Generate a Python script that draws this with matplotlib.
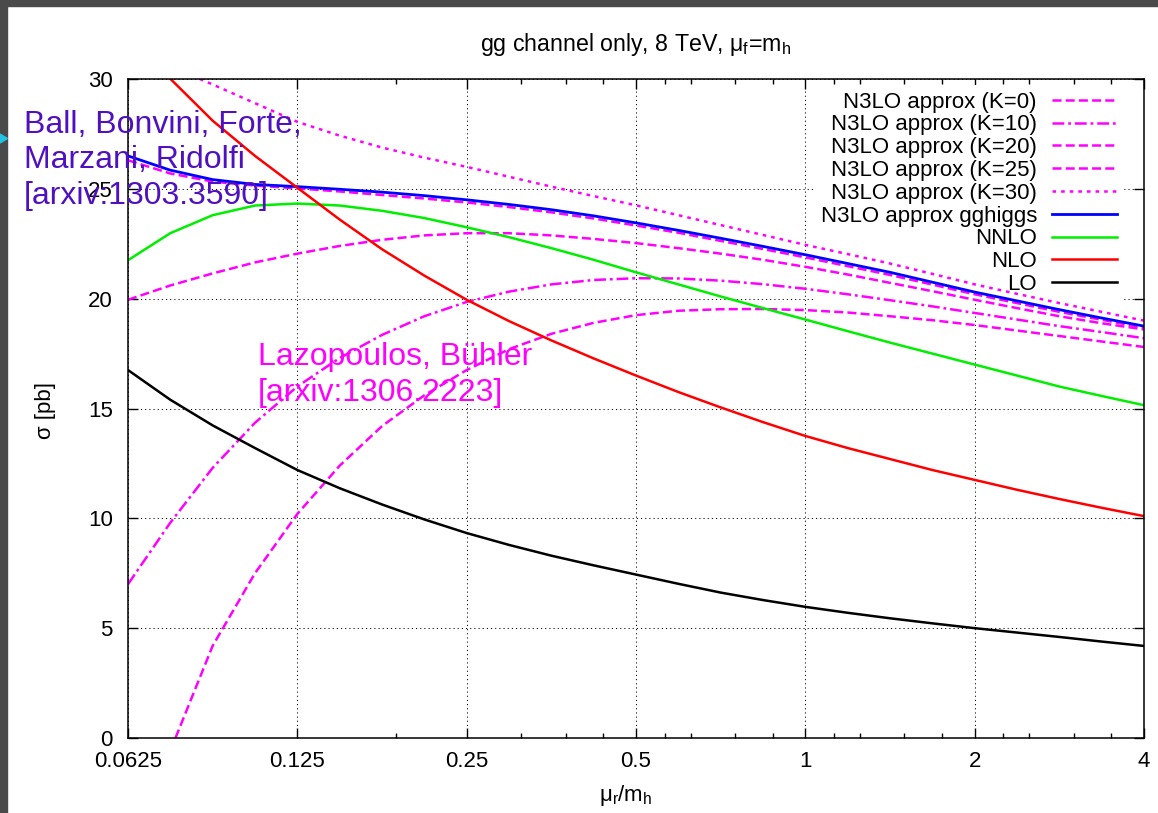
import numpy as np
import matplotlib
matplotlib.use('Agg')
import matplotlib.pyplot as plt
from matplotlib.patches import Rectangle, Polygon

plt.rcParams['font.family'] = ['Liberation Sans', 'DejaVu Sans']
plt.rcParams['mathtext.default'] = 'regular'
plt.rcParams['lines.scale_dashes'] = False

# ---------------- data (mu_r/m_h, sigma in pb) ----------------
# quarter-octave sample positions
x_q = [0.0625, 0.0743, 0.0884, 0.1051, 0.125, 0.1487, 0.1768, 0.2102, 0.25, 0.2973,
       0.3536, 0.4204, 0.5, 0.5946, 0.7071, 0.8409, 1.0, 1.1892, 1.4142, 1.6818,
       2.0, 2.3784, 2.8284, 3.3636, 4.0]

lo_x = x_q
lo_y = [16.75, 15.4, 14.23, 13.2, 12.2, 11.37, 10.63, 9.95, 9.33, 8.79,
        8.3, 7.86, 7.44, 7.02, 6.62, 6.28, 5.97, 5.7, 5.45, 5.22,
        5.0, 4.8, 4.6, 4.39, 4.19]

nlo_x = [0.0744] + x_q[2:]
nlo_y = [30.0, 28.1, 26.5, 25.05, 23.6, 22.25, 21.05, 19.95, 18.98,
         18.1, 17.28, 16.5, 15.75, 15.05, 14.38, 13.75, 13.2, 12.7, 12.2,
         11.75, 11.3, 10.88, 10.48, 10.1]

nnlo_x = x_q
nnlo_y = [21.75, 22.98, 23.8, 24.24, 24.33, 24.24, 24.0, 23.67, 23.25, 22.8,
          22.3, 21.77, 21.2, 20.65, 20.1, 19.57, 19.05, 18.52, 18.0, 17.5,
          17.0, 16.5, 16.0, 15.57, 15.15]

gghiggs_x = x_q
gghiggs_y = [26.5, 25.85, 25.42, 25.2, 25.1, 24.98, 24.85, 24.69, 24.5, 24.29,
             24.05, 23.77, 23.45, 23.11, 22.75, 22.38, 22.0, 21.6, 21.2, 20.75,
             20.3, 19.9, 19.5, 19.12, 18.75]

k30_x = [0.0839] + x_q[2:]
k30_y = [30.0, 29.75, 28.9, 28.05, 27.42, 26.88, 26.42, 26.0, 25.55,
         25.1, 24.67, 24.25, 23.8, 23.35, 22.9, 22.45, 22.03, 21.6, 21.13,
         20.65, 20.22, 19.8, 19.4, 19.0]

k25_x = x_q
k25_y = [26.3, 25.7, 25.33, 25.15, 25.02, 24.88, 24.72, 24.56, 24.38, 24.17,
         23.93, 23.65, 23.33, 23.0, 22.63, 22.26, 21.88, 21.48, 21.08, 20.64,
         20.2, 19.8, 19.4, 19.04, 18.68]

k20_x = x_q
k20_y = [19.95, 20.6, 21.15, 21.65, 22.05, 22.4, 22.68, 22.88, 22.98, 22.98,
         22.88, 22.72, 22.53, 22.3, 22.05, 21.77, 21.45, 21.1, 20.72, 20.34,
         19.95, 19.57, 19.2, 18.88, 18.6]

k10_x = x_q
k10_y = [7.0, 9.8, 12.3, 14.35, 16.0, 17.3, 18.35, 19.2, 19.85, 20.32,
         20.65, 20.85, 20.93, 20.92, 20.82, 20.66, 20.45, 20.2, 19.93, 19.65,
         19.35, 19.05, 18.75, 18.48, 18.2]

k0_x = [0.0759] + x_q[2:]
k0_y = [0.0, 4.2, 7.5, 10.2, 12.4, 14.2, 15.6, 16.75, 17.7,
        18.4, 18.9, 19.25, 19.45, 19.52, 19.53, 19.48, 19.37, 19.2, 19.02,
        18.8, 18.55, 18.3, 18.05, 17.8]

x_major = [0.0625, 0.125, 0.25, 0.5, 1, 2, 4]
x_major_labels = ['0.0625', '0.125', '0.25', '0.5', '1', '2', '4']
x_minor = [0.1875, 0.3125, 0.375, 0.4375, 0.5625, 0.625, 0.75, 0.875,
           1.125, 1.25, 1.5, 1.75, 2.25, 2.5, 3, 3.5]
y_major = [0, 5, 10, 15, 20, 25, 30]

# ---------------- figure ----------------
W, H = 1158, 813
fig = plt.figure(figsize=(W / 100, H / 100), dpi=100)
fig.patch.set_facecolor('white')
L, R, B, T = 128, 1144, 738, 79
ax = fig.add_axes([L / W, 1 - B / H, (R - L) / W, (B - T) / H])

MAG = '#ff00ff'
lw_m = 1.8
ax.plot(k0_x, k0_y, color=MAG, lw=lw_m, dashes=(6.5, 3.0), label='N3LO approx (K=0)')
ax.plot(k10_x, k10_y, color=MAG, lw=lw_m, dashes=(8.5, 2.8, 2.0, 2.8), label='N3LO approx (K=10)')
ax.plot(k20_x, k20_y, color=MAG, lw=lw_m, dashes=(6.5, 3.0), label='N3LO approx (K=20)')
ax.plot(k25_x, k25_y, color=MAG, lw=lw_m, dashes=(6.5, 3.0), label='N3LO approx (K=25)')
ax.plot(k30_x, k30_y, color=MAG, lw=lw_m, dashes=(2.6, 3.6), label='N3LO approx (K=30)')
ax.plot(gghiggs_x, gghiggs_y, color='#0000ff', lw=2.0, label='N3LO approx gghiggs')
ax.plot(nnlo_x, nnlo_y, color='#00ee00', lw=1.8, label='NNLO')
ax.plot(nlo_x, nlo_y, color='#ff0000', lw=1.8, label='NLO')
ax.plot(lo_x, lo_y, color='black', lw=1.8, label='LO')

ax.set_xscale('log', base=2)
ax.set_xlim(0.0625, 4)
ax.set_ylim(0, 30)
ax.set_xticks(x_major)
ax.set_xticklabels(x_major_labels)
ax.set_xticks(x_minor, minor=True)
ax.xaxis.set_minor_formatter(matplotlib.ticker.NullFormatter())
ax.set_yticks(y_major)
ax.tick_params(which='major', direction='in', top=True, right=True, length=7, width=1.0,
               labelsize=16, pad=9)
ax.tick_params(axis='y', which='major', pad=11)
ax.tick_params(which='minor', direction='in', top=True, right=True, length=3.6, width=1.0)
ax.yaxis.set_minor_locator(matplotlib.ticker.NullLocator())
for s in ax.spines.values():
    s.set_linewidth(1.1)
    s.set_color('black')
ax.grid(True, which='major', color='black', linestyle=(0, (0.8, 2.2)), linewidth=0.7)
ax.set_axisbelow(True)

leg = ax.legend(loc='upper right', bbox_to_anchor=((1124 - L) / (R - L), (B - 85) / (B - T)),
                markerfirst=False, fontsize=16, handlelength=2.95, handletextpad=0.67,
                labelspacing=0.08, borderpad=0.3, borderaxespad=0.0, frameon=True,
                fancybox=False, facecolor='white', edgecolor='none', framealpha=1.0)
leg.set_zorder(1.5)

# titles and labels
fig.text(636 / W, 1 - 45 / H, 'gg channel only, 8 TeV, μ$_{f}$=m$_{h}$',
         ha='center', va='center', fontsize=16.7)
fig.text(626 / W, 1 - 795 / H, 'μ$_{r}$/m$_{h}$', ha='center', va='center', fontsize=16)
fig.text(45 / W, 1 - 410 / H, 'σ [pb]', ha='center', va='center', rotation=90, fontsize=16)

# annotations
PURP = '#4f10c0'
for i, s in enumerate(['Ball, Bonvini, Forte,', 'Marzani, Ridolfi', '[arxiv:1303.3590]']):
    fig.text(24 / W, 1 - (133 + 35.5 * i) / H, s, ha='left', va='baseline',
             fontsize=23, color=PURP)
for i, s in enumerate(['Lazopoulos, Bühler', '[arxiv:1306.2223]']):
    fig.text(258 / W, 1 - (365 + 36 * i) / H, s, ha='left', va='baseline',
             fontsize=23, color=MAG)

# screen frame
fig.patches.append(Rectangle((0, 1 - 6 / H), 1, 6 / H, transform=fig.transFigure,
                             color='#4a4a4a', zorder=10))
fig.patches.append(Rectangle((0, 0), 7.5 / W, 1, transform=fig.transFigure,
                             color='#4a4a4a', zorder=10))
fig.patches.append(Polygon([(0, 1 - 134 / H), (7.5 / W, 1 - 138.5 / H), (0, 1 - 143 / H)],
                           closed=True, transform=fig.transFigure, color='#22c4e4', zorder=11))

fig.savefig('out.png', dpi=100)
